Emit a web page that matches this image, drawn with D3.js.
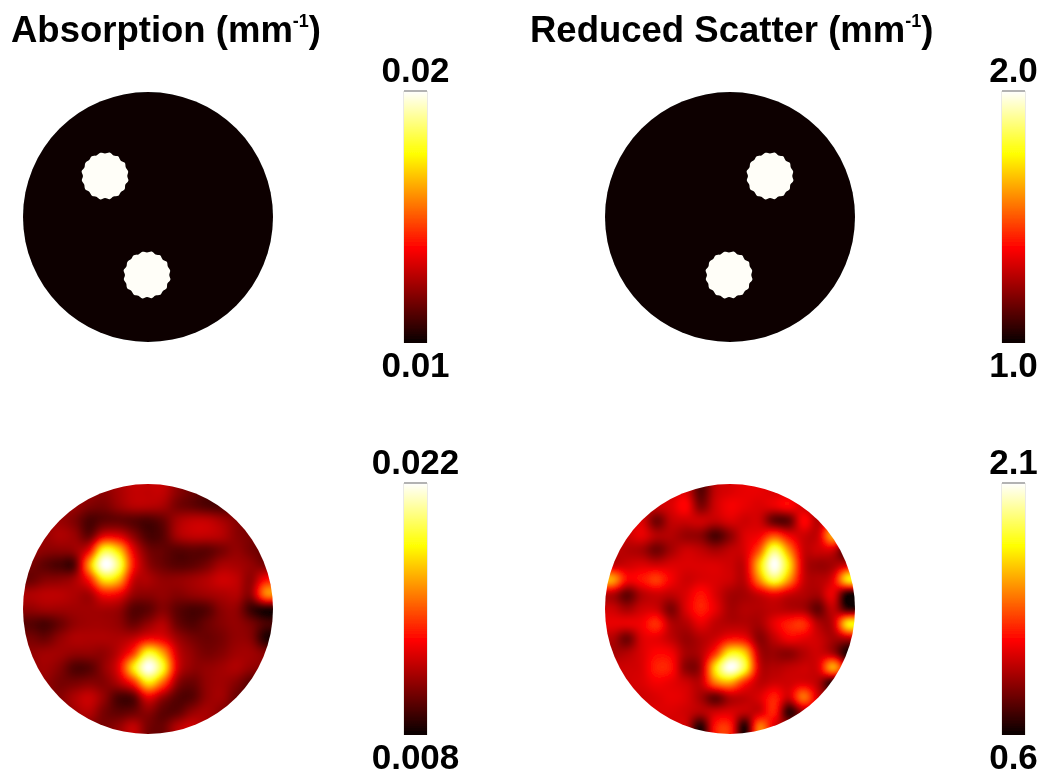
<!DOCTYPE html>
<html><head><meta charset="utf-8">
<style>html,body{margin:0;padding:0;background:#fff}svg{display:block;font-family:"Liberation Sans",Arial,sans-serif;font-weight:700}</style>
<script src="https://cdn.jsdelivr.net/npm/d3@7/dist/d3.min.js"></script>
</head><body><div id="c"></div>
<script>
const columnTitles = ["Absorption (mm", "Reduced Scatter (mm"];
const titleExponent = "-1";
const truthRangeAbs = ["0.01", "0.02"];
const truthRangeSca = ["1.0", "2.0"];
const reconRangeAbs = ["0.008", "0.022"];
const reconRangeSca = ["0.6", "2.1"];
// inclusions of the true maps, in image units (-1..1 across the disc; y down)
const inclusionsAbs = [[-0.344, -0.328, 0.18], [-0.008, 0.464, 0.18]];
const inclusionsSca = [[0.32, -0.328, 0.18], [-0.008, 0.464, 0.18]];
const inclusionEdge = [1,1.06,0.99,1.05,0.98,1.06,1,1.05,0.99,1.06,0.98,1.05,1,1.06,0.99,1.05,0.98,1.06,1,1.05,0.99,1.06,1,1.05,0.98,1.06,0.99,1.05,1,1.06,0.99,1.05];
// reconstructions, percent of colour range, on a 17x17 grid
const reconAbs = [
[22,22,22,22,22,20,24,28,28,28,20,15,12,12,12,12,12],
[22,22,22,22,18,17,22,26,26,24,17,14,11,10,13,15,15],
[22,22,22,18,10,13,14,12,10,14,24,28,28,24,19,15,15],
[22,22,25,22,14,32,32,20,10,12,24,28,28,26,20,17,14],
[22,20,20,22,35,78,68,34,17,14,12,13,13,17,21,17,14],
[17,13,10,12,60,100,85,40,21,15,12,13,17,24,24,21,17],
[15,19,20,24,40,72,65,30,25,21,21,23,26,30,28,21,38],
[25,27,27,25,24,38,36,22,20,21,19,21,23,25,26,21,56],
[21,23,23,23,23,24,22,12,13,19,13,10,12,20,21,8,4],
[12,10,15,21,23,23,21,15,21,26,15,11,15,19,21,17,10],
[17,15,21,25,25,25,25,28,36,34,23,17,15,17,21,19,4],
[21,23,23,21,21,21,28,45,78,62,30,21,17,19,23,23,19],
[21,23,19,11,12,21,34,72,100,78,32,21,21,23,25,21,19],
[21,21,17,17,19,19,26,42,72,52,21,15,21,23,19,12,12],
[19,19,19,25,29,21,10,12,34,22,12,12,21,23,15,12,12],
[17,17,17,23,26,17,13,15,20,13,13,21,24,19,15,12,12],
[17,17,17,19,19,17,21,28,17,15,26,30,23,17,15,12,12]];
const reconSca = [
[30,30,30,30,30,32,12,28,32,34,34,32,32,28,22,22,22],
[30,30,30,30,32,38,18,30,36,34,32,34,38,30,24,24,24],
[30,30,32,16,28,30,30,28,32,30,30,14,14,38,26,40,24],
[30,30,34,26,26,22,20,10,20,32,36,48,36,30,30,62,30],
[28,26,24,16,24,30,28,24,28,32,50,85,58,30,30,30,6],
[28,30,32,30,32,32,32,32,30,30,68,100,72,30,22,24,30],
[62,38,40,46,36,30,32,32,30,28,58,82,60,30,26,34,72],
[26,14,26,30,28,32,40,32,24,24,30,36,30,26,24,34,2],
[30,24,30,30,18,32,42,34,24,26,26,28,26,24,14,28,8],
[34,34,36,44,26,26,34,28,26,26,24,34,42,44,26,28,72],
[26,16,32,34,28,22,26,30,38,36,20,28,36,34,30,24,26],
[24,26,32,38,36,24,26,44,75,68,26,22,20,26,30,24,2],
[30,30,32,42,40,20,24,72,100,80,30,26,28,30,32,62,30],
[24,30,32,36,34,30,28,55,62,42,28,30,30,32,26,4,20],
[30,30,30,32,34,32,24,14,26,28,32,42,30,54,30,20,20],
[28,30,32,32,32,30,26,30,32,28,30,42,6,24,28,22,22],
[28,28,28,28,30,30,4,40,42,4,55,32,24,24,24,24,24]];

const W = 1050, H = 784, R = 125;
const hot = t => {
  const r = Math.min(1, t / 0.375), g = Math.max(0, Math.min(1, (t - 0.375) / 0.375)), b = Math.max(0, (t - 0.75) / 0.25);
  return d3.rgb(8 + 247 * r, 255 * g, 255 * b);
};
const color = d3.scaleSequential(hot).domain([0, 100]);

const svg = d3.select("#c").append("svg").attr("width", W).attr("height", H);
const defs = svg.append("defs");
const blur = (id, s) => defs.append("filter").attr("id", id).attr("x", "-5%").attr("y", "-5%").attr("width", "110%").attr("height", "110%")
  .append("feGaussianBlur").attr("stdDeviation", s);
blur("soft", 0.6);
blur("smooth", 1.8);
const root = svg.append("g").attr("filter", "url(#soft)");

// colour bar gradient
const grad = defs.append("linearGradient").attr("id", "hotbar").attr("x1", 0).attr("x2", 0).attr("y1", 1).attr("y2", 0);
d3.range(0, 100.1, 2.5).forEach(v => grad.append("stop").attr("offset", v + "%").attr("stop-color", color(v)));

const panels = [
  {cx: 148, cy: 217, inc: inclusionsAbs, range: truthRangeAbs, bar: 404},
  {cx: 730, cy: 217, inc: inclusionsSca, range: truthRangeSca, bar: 1002},
  {cx: 148, cy: 609, grid: reconAbs, range: reconRangeAbs, bar: 404},
  {cx: 730, cy: 609, grid: reconSca, range: reconRangeSca, bar: 1002}
];

function upsample(grid, size) {
  // Catmull-Rom resampling of the grid values for display, as an interpolated image
  const n = grid.length, cv = document.createElement("canvas");
  cv.width = cv.height = size;
  const ctx = cv.getContext("2d"), im = ctx.createImageData(size, size);
  const at = (i, j) => grid[Math.max(0, Math.min(n - 1, j))][Math.max(0, Math.min(n - 1, i))];
  const cr = (a, b, c, d, t) => b + 0.5 * t * (c - a + t * (2 * a - 5 * b + 4 * c - d + t * (3 * (b - c) + d - a)));
  const pos = d3.scaleLinear().domain([10, size - 10]).range([-0.5, n - 0.5]);
  for (let y = 0; y < size; y++) for (let x = 0; x < size; x++) {
    const gx = pos(x + .5), gy = pos(y + .5), i = Math.floor(gx), j = Math.floor(gy), tx = gx - i, ty = gy - j;
    const row = [-1, 0, 1, 2].map(o => cr(at(i - 1, j + o), at(i, j + o), at(i + 1, j + o), at(i + 2, j + o), tx));
    const v = Math.max(0, Math.min(100, cr(row[0], row[1], row[2], row[3], ty)));
    const c = color(v), k = (y * size + x) * 4;
    im.data[k] = c.r; im.data[k + 1] = c.g; im.data[k + 2] = c.b; im.data[k + 3] = 255;
  }
  ctx.putImageData(im, 0, 0);
  return cv.toDataURL();
}

panels.forEach((p, idx) => {
  const g = root.append("g");
  const x = d3.scaleLinear().domain([-1, 1]).range([p.cx - R, p.cx + R]);
  const y = d3.scaleLinear().domain([-1, 1]).range([p.cy - R, p.cy + R]);
  if (p.grid) {
    const id = "disc" + idx;
    defs.append("clipPath").attr("id", id).append("circle").attr("cx", x(0)).attr("cy", y(0)).attr("r", R);
    g.append("g").attr("clip-path", `url(#${id})`).append("image").attr("href", upsample(p.grid, 2 * R + 20))
      .attr("x", x(-1) - 10).attr("y", y(-1) - 10).attr("width", 2 * R + 20).attr("height", 2 * R + 20)
      .attr("filter", "url(#smooth)");
  } else {
    g.append("circle").attr("cx", x(0)).attr("cy", y(0)).attr("r", R).attr("fill", color(0));
    const radial = d3.lineRadial().curve(d3.curveCardinalClosed)
      .angle((d, i) => i / inclusionEdge.length * 2 * Math.PI);
    p.inc.forEach(c => {
      g.append("path")
        .attr("transform", `translate(${x(c[0])},${y(c[1])})`)
        .attr("d", radial.radius(d => d * c[2] * R)(inclusionEdge))
        .attr("fill", "#fffef8");
    });
  }
  // colour bar
  const bx = p.bar, bw = 23, by = d3.scaleLinear().domain([0, 1]).range([p.cy + R + 1, p.cy - R - 1]);
  [bx, bx + bw].forEach(v => g.append("line").attr("x1", v).attr("x2", v).attr("y1", by(1)).attr("y2", by(0)).attr("stroke", "#dcdcd6").attr("stroke-width", 1.2));
  g.append("rect").attr("x", bx).attr("y", by(1)).attr("width", bw).attr("height", by(0) - by(1)).attr("fill", "url(#hotbar)");
  g.append("line").attr("x1", bx).attr("x2", bx + bw).attr("y1", by(1)).attr("y2", by(1)).attr("stroke", "#9a9a9a").attr("stroke-width", 1.5);
  g.append("text").attr("x", bx + bw / 2).attr("y", by(1) - 9).attr("text-anchor", "middle").attr("font-size", 35).text(p.range[1]);
  g.append("text").attr("x", bx + bw / 2).attr("y", by(0) + 34).attr("text-anchor", "middle").attr("font-size", 35).text(p.range[0]);
});

// column titles
[[11, columnTitles[0]], [530, columnTitles[1]]].forEach(([tx, s]) => {
  const t = root.append("text").attr("x", tx).attr("y", 42).attr("font-size", 36.5);
  t.append("tspan").text(s);
  t.append("tspan").attr("font-size", 18).attr("dy", -15).text(titleExponent);
  t.append("tspan").attr("dy", 15).text(")");
});
</script></body></html>
